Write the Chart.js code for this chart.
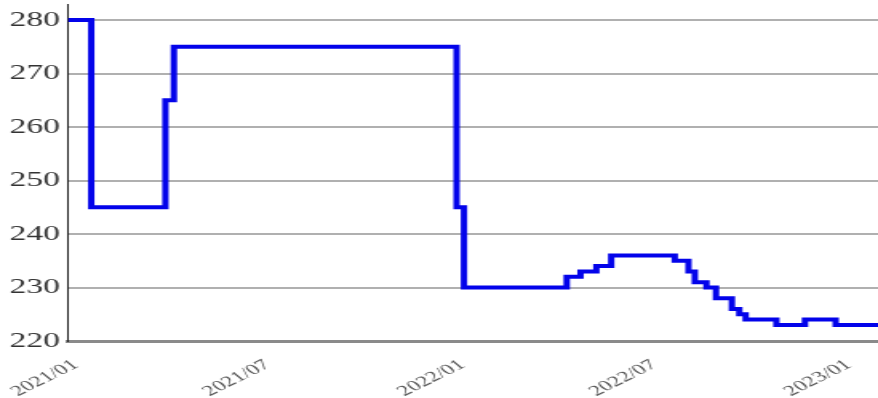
<!DOCTYPE html>
<html>
<head>
<meta charset="utf-8">
<script src="https://cdn.jsdelivr.net/npm/chart.js@4/dist/chart.umd.min.js"></script>
<style>
  html, body { margin: 0; padding: 0; background: #fff; overflow: hidden; }
  /* the chart is drawn narrow and stretched sideways, which widens the glyphs and vertical strokes */
  #wrap { width: 549px; height: 398px; transform: scaleX(1.5993); transform-origin: 0 0; }
</style>
</head>
<body>
<div id="wrap"><canvas id="priceChart" width="549" height="398"></canvas></div>
<script>
// dates where the price changed, and the price from that date on
const changeDates = [
  '2021-01-01', '2021-01-23', '2021-04-03', '2021-04-11', '2022-01-03', '2022-01-10',
  '2022-04-17', '2022-04-30', '2022-05-15', '2022-05-29', '2022-07-28', '2022-08-10',
  '2022-08-16', '2022-08-27', '2022-09-05', '2022-09-20', '2022-09-27', '2022-10-03',
  '2022-11-01', '2022-11-28', '2022-12-27', '2023-02-05'
];
const prices = [
  280, 245, 265, 275, 245, 230,
  232, 233, 234, 236, 235, 233,
  231, 230, 228, 226, 225, 224,
  223, 224, 223, 223
];

const xTickDates = ['2021-01-01', '2021-07-01', '2022-01-01', '2022-07-01', '2023-01-01'];
const xTickLabels = ['2021/01', '2021/07', '2022/01', '2022/07', '2023/01'];
const yTicks = [220, 230, 240, 250, 260, 270, 280];

const startDate = changeDates[0];
function dayOf(d) {
  return (Date.parse(d) - Date.parse(startDate)) / 86400000;
}

const points = changeDates.map((d, i) => ({ x: dayOf(d), y: prices[i] }));
const tickDays = xTickDates.map(dayOf);

new Chart(document.getElementById('priceChart'), {
  type: 'line',
  data: {
    datasets: [{
      data: points,
      stepped: true,
      borderColor: '#0303ea',
      borderWidth: 4,
      pointRadius: 0,
      fill: false
    }]
  },
  options: {
    responsive: false,
    devicePixelRatio: 1,
    animation: false,
    layout: { autoPadding: false, padding: { top: 4, right: 0, bottom: 0, left: 0 } },
    plugins: { legend: { display: false }, tooltip: { enabled: false } },
    scales: {
      x: {
        type: 'linear',
        min: 0,
        max: dayOf(changeDates[changeDates.length - 1]),
        afterBuildTicks: (scale) => { scale.ticks = tickDays.map(v => ({ value: v })); },
        afterFit: (scale) => {
          scale.height = 57;
          scale.paddingLeft = 0;
          scale.paddingRight = 0;
        },
        grid: { display: false },
        border: { display: true, color: '#8a8a8a', width: 3 },
        ticks: {
          autoSkip: false,
          minRotation: 38,
          maxRotation: 38,
          padding: 7,
          labelOffset: 5,
          color: '#555',
          font: { family: 'Liberation Serif', size: 15 },
          callback: (value, index) => xTickLabels[index]
        }
      },
      y: {
        min: 220,
        max: 283,
        afterBuildTicks: (scale) => { scale.ticks = yTicks.map(v => ({ value: v })); },
        afterFit: (scale) => {
          scale.width = 42.5;
          scale.paddingTop = 0;
          scale.paddingBottom = 0;
        },
        grid: { color: '#b0b0b0', lineWidth: 2, drawTicks: false },
        border: { display: true, color: '#222', width: 1 },
        ticks: {
          padding: 5,
          color: '#333',
          font: { family: 'Liberation Serif', size: 21 }
        }
      }
    }
  }
});
</script>
</body>
</html>
